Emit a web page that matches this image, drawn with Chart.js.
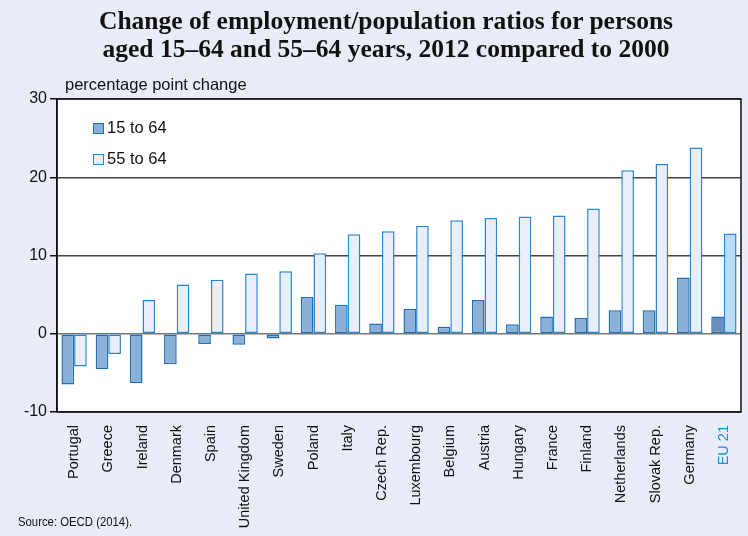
<!DOCTYPE html>
<html>
<head>
<meta charset="utf-8">
<script src="https://cdn.jsdelivr.net/npm/chart.js@4.4.1/dist/chart.umd.min.js"></script>
<style>
  html, body { margin: 0; padding: 0; }
  body { width: 748px; height: 536px; background: #e8ecf6; position: relative; overflow: hidden; font-family: "Liberation Sans", Arial, sans-serif; }
  #wrap { position: absolute; left: 0; top: 0; width: 748px; height: 536px; }
  .title { position: absolute; left: 0; width: 772px; top: 7px; text-align: center; font-family: "Liberation Serif", "Times New Roman", serif; font-weight: bold; font-size: 25.5px; line-height: 28px; color: #111; }
  .unit { position: absolute; left: 65px; top: 75px; font-size: 16.5px; color: #111; }
  .legend { position: absolute; left: 93px; font-size: 16.5px; color: #111; line-height: 18px; }
  .legend span.box { display: inline-block; width: 11px; height: 11px; margin-right: 3px; vertical-align: -1px; box-sizing: border-box; border: 1.5px solid #1f6fb5; }
  .source { position: absolute; left: 18px; top: 514px; font-size: 13.5px; color: #111; transform: scaleX(0.84); transform-origin: left top; white-space: nowrap; }
</style>
</head>
<body>
<div id="wrap"><canvas id="chart" width="748" height="536"></canvas></div>
<div class="title">Change of employment/population ratios for persons<br>aged 15–64 and 55–64 years, 2012 compared to 2000</div>
<div class="unit">percentage point change</div>
<div class="legend" style="top:118px"><span class="box" style="background:#8ab0d8"></span>15 to 64</div>
<div class="legend" style="top:149px"><span class="box" style="background:#e9eef8; border-color:#2a86cc"></span>55 to 64</div>
<div class="source">Source: OECD (2014).</div>
<script>
// Chart data
const countries = ['Portugal', 'Greece', 'Ireland', 'Denmark', 'Spain', 'United Kingdom', 'Sweden', 'Poland', 'Italy', 'Czech Rep.',
    'Luxembourg', 'Belgium', 'Austria', 'Hungary', 'France', 'Finland', 'Netherlands', 'Slovak Rep.', 'Germany', 'EU 21'];
const age15to64 = [-6.5, -4.5, -6.3, -3.9, -1.3, -1.4, -0.6, 4.7, 3.7, 1.3,
    3.2, 0.9, 4.3, 1.2, 2.2, 2.0, 3.0, 3.0, 7.2, 2.2];
const age55to64 = [-4.2, -2.6, 4.3, 6.3, 6.9, 7.7, 8.0, 10.3, 12.7, 13.1,
    13.8, 14.5, 14.8, 15.0, 15.1, 16.0, 20.9, 21.7, 23.8, 12.8];
const yTicks = [-10, 0, 10, 20, 30];

const lastIdx = countries.length - 1;

// white plot area + top/right frame
const plotFrame = {
    id: 'plotFrame',
    beforeDraw(chart) {
        const a = chart.chartArea, ctx = chart.ctx;
        ctx.save();
        ctx.fillStyle = '#ffffff';
        ctx.fillRect(a.left, a.top, a.right - a.left, a.bottom - a.top);
        ctx.restore();
    },
    afterDraw(chart) {
        const a = chart.chartArea, ctx = chart.ctx;
        ctx.save();
        ctx.strokeStyle = '#111';
        ctx.lineWidth = 1.5;
        ctx.strokeRect(a.left, a.top, a.right - a.left, a.bottom - a.top);
        ctx.restore();
    }
};

new Chart(document.getElementById('chart'), {
    type: 'bar',
    data: {
        labels: countries,
        datasets: [
            {
                label: '15 to 64',
                data: age15to64,
                backgroundColor: countries.map((c, i) => i === lastIdx ? '#6b8fb9' : '#8ab0d8'),
                borderColor: '#1f6fb5',
                borderWidth: 1.5,
                borderSkipped: false
            },
            {
                label: '55 to 64',
                data: age55to64,
                backgroundColor: countries.map((c, i) => i === lastIdx ? '#bcdcf3' : '#e9eef8'),
                borderColor: '#2a86cc',
                borderWidth: 1.5,
                borderSkipped: false
            }
        ]
    },
    options: {
        responsive: false,
        animation: false,
        layout: { padding: { top: 99, right: 7, bottom: 0, left: 0 } },
        plugins: {
            legend: { display: false },
            tooltip: { enabled: false }
        },
        datasets: {
            bar: { categoryPercentage: 0.74, barPercentage: 1.0 }
        },
        scales: {
            x: {
                grid: { display: false },
                border: { display: false },
                ticks: {
                    minRotation: 90,
                    maxRotation: 90,
                    autoSkip: false,
                    padding: 5,
                    font: { family: 'Liberation Sans', size: 14.5 },
                    color: countries.map((c, i) => i === lastIdx ? '#1a8fd4' : '#111')
                },
                afterFit(scale) { scale.height = 124; }
            },
            y: {
                min: -10,
                max: 30,
                afterBuildTicks(scale) { scale.ticks = yTicks.map(v => ({ value: v })); },
                grid: {
                    color: ctx => ctx.tick && ctx.tick.value === 0 ? '#777' : '#444',
                    lineWidth: 1.5,
                    drawTicks: true,
                    tickLength: 7,
                    tickColor: '#111'
                },
                border: { display: true, color: '#111', width: 1.5 },
                ticks: {
                    padding: 3,
                    font: { family: 'Liberation Sans', size: 16 },
                    color: '#111'
                },
                afterFit(scale) { scale.width = 57; }
            }
        }
    },
    plugins: [plotFrame]
});
</script>
</body>
</html>
